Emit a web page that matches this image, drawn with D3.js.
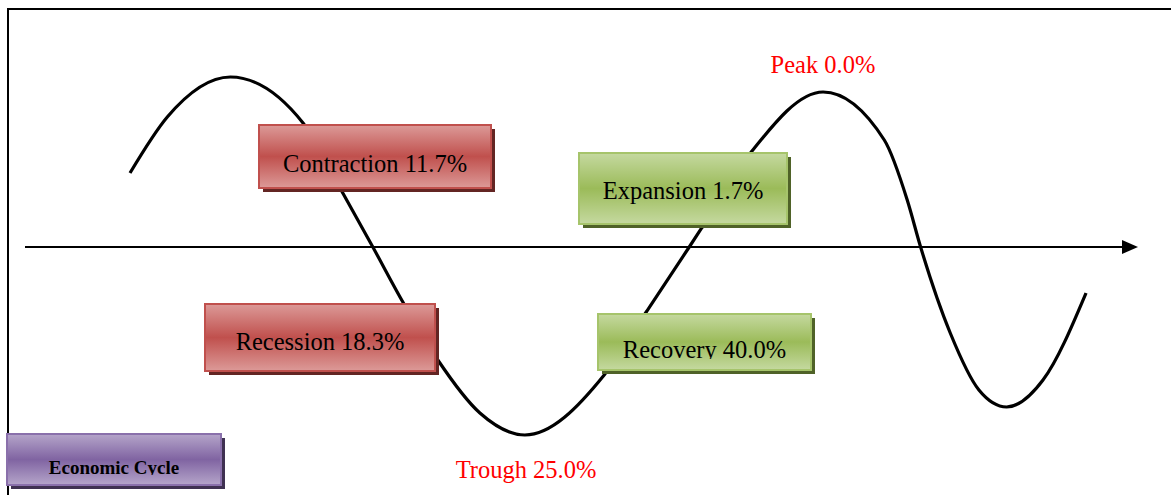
<!DOCTYPE html>
<html>
<head>
<meta charset="utf-8">
<script src="https://cdn.jsdelivr.net/npm/d3@7"></script>
<style>
  body { margin: 0; background: #fff; }
  svg { display: block; }
</style>
</head>
<body>
<div id="chart"></div>
<script>
// wave: phase position (0..100) and level (-1..1, 0 = axis)
const waveT = [0, 3.9, 10.5, 18.1, 22.2, 25.4, 28.6, 32.2, 36.6, 41.3, 49.6, 54.0, 58.5, 59.8, 64.9, 72.5, 78.9, 81.3, 82.7, 85.8, 88.8, 91.7, 95.5, 100];
const waveV = [0.37, 0.65, 0.85, 0.62, 0.275, 0, -0.28, -0.565, -0.83, -0.94, -0.64, -0.325, 0, 0.095, 0.47, 0.775, 0.535, 0.235, 0, -0.43, -0.715, -0.80, -0.665, -0.23];

// phase boxes
const phases = ["Contraction", "Expansion", "Recession", "Recovery"];
const shares = [11.7, 1.7, 18.3, 40.0];
const phaseTheme = ["red", "green", "red", "green"];

// turning point labels
const points = ["Peak", "Trough"];
const pointShares = [0.0, 25.0];

const title = "Economic Cycle";

// layout (pixels) for the boxes and labels
const boxLayout = [
    { x0: 259, y0: 125, x1: 491, y1: 188, base: 47 },
    { x0: 579, y0: 153, x1: 787, y1: 224, base: 46 },
    { x0: 205, y0: 304, x1: 435, y1: 371, base: 46 },
    { x0: 598, y0: 314, x1: 811, y1: 370, base: 44, clip: 45 }
];
const pointLayout = [{ x: 823, y: 73 }, { x: 526, y: 478 }];
const titleLayout = { x0: 7, y0: 434, x1: 221, y1: 485, base: 40, clip: 41 };

const themes = {
    red: { light: "#dc9a98", dark: "#c0504d", stroke: "#c0504d", shadow: "#632523" },
    green: { light: "#c5d9a0", dark: "#9bbb59", stroke: "#a6c46b", shadow: "#4f6228" },
    purple: { light: "#b5a5ca", dark: "#8064a2", stroke: "#8a70ab", shadow: "#3f3151" }
};

const width = 1171, height = 495;

let svg = d3
    .select("#chart")
    .append("svg")
    .attr("width", width)
    .attr("height", height);

let defs = svg.append("defs");

//vertical light-dark-light gradients like the office shape styles
Object.entries(themes).forEach(([name, c]) => {
    let g = defs
        .append("linearGradient")
        .attr("id", "grad-" + name)
        .attr("x1", 0).attr("y1", 0)
        .attr("x2", 0).attr("y2", 1);
    g.append("stop").attr("offset", "0%").attr("stop-color", c.light);
    g.append("stop").attr("offset", "50%").attr("stop-color", c.dark);
    g.append("stop").attr("offset", "100%").attr("stop-color", c.light);
});

defs.append("marker")
    .attr("id", "arrow")
    .attr("viewBox", "0 0 16 14")
    .attr("refX", 0)
    .attr("refY", 7)
    .attr("markerWidth", 16)
    .attr("markerHeight", 14)
    .attr("markerUnits", "userSpaceOnUse")
    .attr("orient", "auto")
    .append("path")
    .attr("d", "M0,0 L16,7 L0,14 Z")
    .attr("fill", "#000");

//outer frame (runs off the right and bottom of the page)
svg.append("rect")
    .attr("x", 8)
    .attr("y", 9)
    .attr("width", width + 20)
    .attr("height", height + 20)
    .attr("fill", "none")
    .attr("stroke", "#000")
    .attr("stroke-width", 2);

//scales
let x = d3.scaleLinear().domain([0, 100]).range([130, 1086]);
let y = d3.scaleLinear().domain([-1, 1]).range([447, 47]);

//time axis with arrow
svg.append("line")
    .attr("x1", 25)
    .attr("x2", 1122)
    .attr("y1", y(0))
    .attr("y2", y(0))
    .attr("stroke", "#000")
    .attr("stroke-width", 2)
    .attr("marker-end", "url(#arrow)");

//the cycle curve
let line = d3
    .line()
    .x((d, i) => x(waveT[i]))
    .y(d => y(d))
    .curve(d3.curveMonotoneX);

svg.append("path")
    .datum(waveV)
    .attr("d", line)
    .attr("fill", "none")
    .attr("stroke", "#000")
    .attr("stroke-width", 3.2)
    .attr("stroke-linecap", "butt");

//draws one shaded box with its text
function drawBox(b, theme, label, fontSize, bold, id) {
    let c = themes[theme];
    let g = svg.append("g");
    g.append("rect")
        .attr("x", b.x0 + 4)
        .attr("y", b.y0 + 4)
        .attr("width", b.x1 - b.x0)
        .attr("height", b.y1 - b.y0)
        .attr("fill", c.shadow);
    g.append("rect")
        .attr("x", b.x0)
        .attr("y", b.y0)
        .attr("width", b.x1 - b.x0)
        .attr("height", b.y1 - b.y0)
        .attr("fill", "url(#grad-" + theme + ")")
        .attr("stroke", c.stroke)
        .attr("stroke-width", 2);
    let t = g.append("text")
        .attr("x", (b.x0 + b.x1) / 2)
        .attr("y", b.y0 + b.base)
        .attr("text-anchor", "middle")
        .style("font-family", "'Liberation Serif', 'Times New Roman', serif")
        .style("font-size", fontSize + "px")
        .style("font-weight", bold ? "bold" : "normal")
        .style("fill", "#000")
        .text(label);
    //text frame is too short in the original, so the text is cut off
    if (b.clip) {
        defs.append("clipPath")
            .attr("id", id)
            .append("rect")
            .attr("x", b.x0)
            .attr("y", b.y0)
            .attr("width", b.x1 - b.x0)
            .attr("height", b.clip);
        t.attr("clip-path", "url(#" + id + ")");
    }
}

phases.forEach((p, i) => {
    drawBox(boxLayout[i], phaseTheme[i], p + " " + shares[i].toFixed(1) + "%", 24.5, false, "clip" + i);
});

drawBox(titleLayout, "purple", title, 19, true, "clipTitle");

//peak / trough labels
svg.selectAll(".pointLabel")
    .data(points)
    .enter()
    .append("text")
    .attr("class", "pointLabel")
    .attr("x", (d, i) => pointLayout[i].x)
    .attr("y", (d, i) => pointLayout[i].y)
    .attr("text-anchor", "middle")
    .style("font-family", "'Liberation Serif', 'Times New Roman', serif")
    .style("font-size", "24.5px")
    .style("fill", "#ff0000")
    .text((d, i) => d + " " + pointShares[i].toFixed(1) + "%");
</script>
</body>
</html>
